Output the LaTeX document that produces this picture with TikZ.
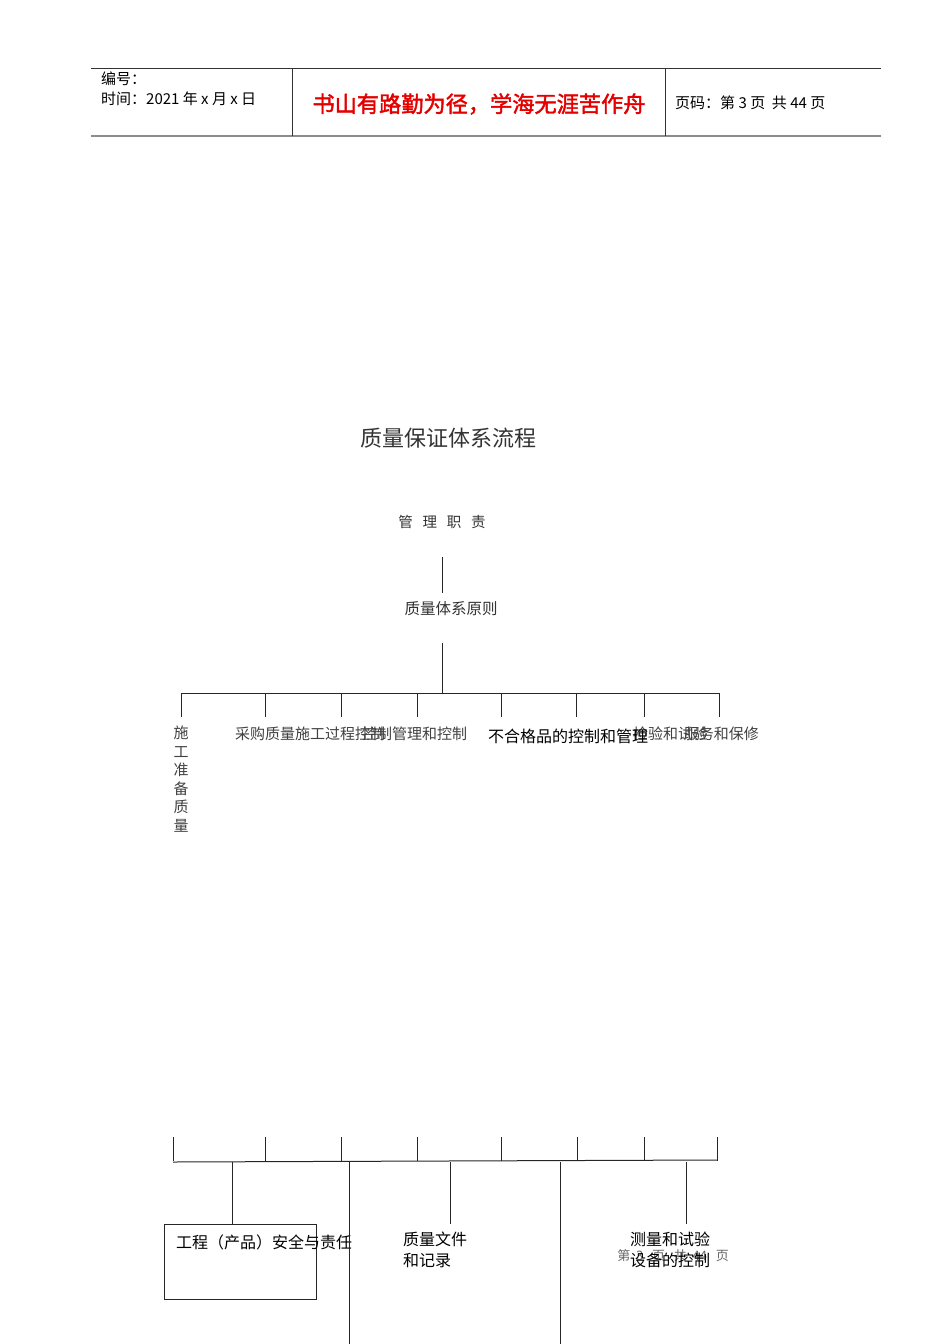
\documentclass[tikz,border=0pt]{standalone}
\usepackage{fontspec}
\newfontfamily\cjk[AutoFakeBold=2]{Noto Sans CJK SC}
\begin{document}
\begin{tikzpicture}[x=1pt,y=-1pt,
  ln/.style={line width=1pt,draw=black!85},
  tx/.style={inner sep=0pt,anchor=west,font=\cjk\fontsize{15}{18}\selectfont,text=black!75},
  txb/.style={inner sep=0pt,anchor=west,font=\cjk\fontsize{16}{21}\selectfont,text=black},
  hd/.style={inner sep=0pt,anchor=west,font=\cjk\fontsize{15}{18}\selectfont,text=black}]
\useasboundingbox (0,0) rectangle (950,1344);
% header
\draw[line width=0.8pt,black!80] (91,68) -- (881,68);
\draw[line width=1.8pt,black!45] (91,136) -- (881,136);
\draw[line width=0.8pt,black!80] (292,68) -- (292,136);
\draw[line width=0.8pt,black!80] (665,68) -- (665,136);
\node[hd] (h1) at (101,79) {编号：};
\node[hd] (h2) at (101,99) {时间：2021 年 x 月 x 日};
\node[inner sep=0pt,font=\cjk\bfseries\fontsize{22.2}{25}\selectfont,text=red!90!black] (h3) at (479,104) {书山有路勤为径，学海无涯苦作舟};
\node[hd] (h4) at (675,103) {页码：第 3 页\ \ 共 44 页};
% title
\node[inner sep=0pt,font=\cjk\fontsize{22}{24}\selectfont,text=black!80] (title) at (448,438) {质量保证体系流程};
\node[inner sep=0pt,font=\cjk\fontsize{14.5}{18}\selectfont,text=black!80] (mgmt) at (442,522) {管\ \ \ 理\ \ \ 职\ \ \ 责};
\node[inner sep=0pt,font=\cjk\fontsize{15.5}{18}\selectfont,text=black!80] (prin) at (451,609) {质量体系原则};
\coordinate (m1) at (442,557);
\coordinate (m2) at (442,593);
\draw[ln] (m1) -- (m2);
\coordinate (p1) at (442,643);
\coordinate (bar) at (442,693);
\draw[ln] (p1) -- (bar);
\draw[ln] (181,693) -- (719,693);
\foreach \x/\n in {181/a,265/b,341/c,417/d,501/e,576/f,644/g,719/h}{
  \coordinate (t\n) at (\x,693);
  \coordinate (u\n) at (\x,717);
  \draw[ln] (t\n) -- (u\n);
}
% row labels
\node[inner sep=0pt,anchor=north,font=\cjk\fontsize{15}{18.5}\selectfont,text=black!75,align=center] (r1) at (181,726) {施\\工\\准\\备\\质\\量};
\node[tx] (r2) at (235,734) {采购质量};
\node[tx] (r3) at (295,734) {施工过程控制};
\node[tx] (r4) at (362,734) {控制管理和控制};
\node[tx] (r6) at (633,734) {检验和试验};
\node[tx,anchor=east] (r7) at (759,734) {服务和保修};
\node[txb] (r5) at (488,736) {不合格品的控制和管理};
% bottom part
\foreach \x/\n in {173/a,265/b,341/c,417/d,501/e,577/f,644/g,717/h}{
  \coordinate (v\n) at (\x,1137);
  \coordinate (w\n) at (\x,1161);
  \draw[ln] (v\n) -- (w\n);
}
\draw[ln] (173,1162) -- (717,1160);
\node[draw=black!85,line width=1pt,minimum width=152pt,minimum height=75pt,inner sep=0pt] (box1) at (240,1261.5) {};
\node[txb] (b1) at (176,1242) {工程（产品）安全与责任};
\coordinate (c1) at (232,1162);
\draw[ln] (c1) -- (box1.north -| c1);
\coordinate (c2) at (349,1162);
\coordinate (c2e) at (349,1344);
\draw[ln] (c2) -- (c2e);
\coordinate (c3) at (450,1162);
\coordinate (c3e) at (450,1224);
\draw[ln] (c3) -- (c3e);
\node[txb,align=left,anchor=north west,font=\cjk\fontsize{16}{21}\selectfont] (b2) at (403,1232) {质量文件\\和记录};
\coordinate (c4) at (560,1162);
\coordinate (c4e) at (560,1344);
\draw[ln] (c4) -- (c4e);
\coordinate (c5) at (686,1162);
\coordinate (c5e) at (686,1224);
\draw[ln] (c5) -- (c5e);
\node[inner sep=0pt,font=\cjk\fontsize{13}{16}\selectfont,text=black!60] (foot) at (673,1256) {第\ \ 3\ \ \ 页\ \ \ 共\ \ 44\ \ \ 页};
\node[txb,align=center,anchor=north,font=\cjk\fontsize{16}{21}\selectfont] (b3) at (670,1232) {测量和试验\\设备的控制};
\end{tikzpicture}
\end{document}
